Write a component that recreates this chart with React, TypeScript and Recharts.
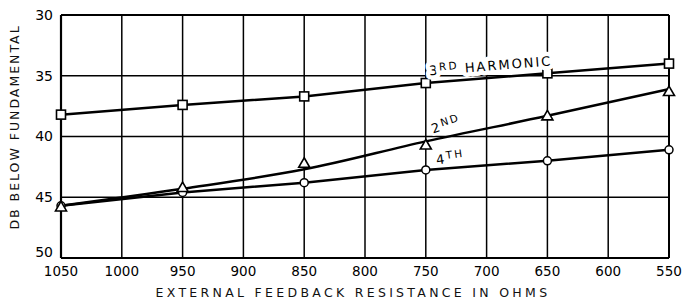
import React from 'react';
import { LineChart, Line, XAxis, YAxis, CartesianGrid, ReferenceDot, ReferenceLine } from 'recharts';

const resistance = [1050, 950, 850, 750, 650, 550];
const third = [38.2, 37.4, 36.7, 35.6, 34.8, 34.0];
const secondMeasured = [45.8, 44.2, 42.2, 40.7, 38.3, 36.3];
const secondCurve = [45.7, 44.3, 42.7, 40.4, 38.3, 36.1];
const fourth = [45.7, 44.6, 43.8, 42.75, 42.0, 41.1];

const xTicks = [1050, 1000, 950, 900, 850, 800, 750, 700, 650, 600, 550];
const yTicks = [30, 35, 40, 45, 50];

const labels = [
  { x: 747, y: 34.96, main: '3', sup: 'RD', rest: ' HARMONIC', rot: -4.6, halo: 9 },
  { x: 744, y: 39.75, main: '2', sup: 'ND', rest: '', rot: -18, halo: 5 },
  { x: 741, y: 42.3, main: '4', sup: 'TH', rest: '', rot: -8, halo: 5 },
];

const data = resistance.map((r, i) => ({
  r,
  third: third[i],
  secondM: secondMeasured[i],
  secondC: secondCurve[i],
  fourth: fourth[i],
}));

const FONT = '"DejaVu Sans", sans-serif';

const SquareDot = (p: any) => {
  const { cx, cy, index } = p;
  if (cx == null || cy == null) return <g key={index} />;
  return <rect key={index} x={cx - 4.5} y={cy - 4.5} width={9} height={9} fill="#fff" stroke="#000" strokeWidth={1.6} />;
};
const TriangleDot = (p: any) => {
  const { cx, cy, index } = p;
  if (cx == null || cy == null) return <g key={index} />;
  const pts = `${cx},${cy - 5.5} ${cx + 5.5},${cy + 4} ${cx - 5.5},${cy + 4}`;
  return <polygon key={index} points={pts} fill="#fff" stroke="#000" strokeWidth={1.6} />;
};
const CircleDot = (p: any) => {
  const { cx, cy, index } = p;
  if (cx == null || cy == null) return <g key={index} />;
  return <circle key={index} cx={cx} cy={cy} r={4} fill="#fff" stroke="#000" strokeWidth={1.5} />;
};

const YTick = (p: any) => {
  const { x, y, payload } = p;
  const shift = payload.value === 50 ? -6 : 0;
  return (
    <text x={x} y={y + shift} dy="0.355em" textAnchor="end" fontFamily={FONT} fontSize={14} fill="#000">
      {payload.value}
    </text>
  );
};

const makeLabel = (l: any) => (p: any) => {
  const { cx, cy } = p;
  return (
    <text
      x={cx}
      y={cy}
      transform={`rotate(${l.rot} ${cx} ${cy})`}
      fontFamily={FONT}
      fontSize={13}
      letterSpacing={2}
      fill="#000"
      stroke="#fff"
      strokeWidth={l.halo}
      paintOrder="stroke"
      strokeLinejoin="round"
    >
      <tspan>{l.main}</tspan>
      <tspan fontSize={10.5} dy={-4}>{l.sup}</tspan>
      {l.rest ? <tspan fontSize={13} dy={4}>{l.rest}</tspan> : null}
    </text>
  );
};

export default function App() {
  return (
    <div style={{ position: 'absolute', left: 0, top: 0, width: 682, height: 299, background: '#fff' }}>
      <LineChart width={682} height={299} data={data} margin={{ top: 15, right: 13, bottom: 11, left: 16 }}>
        <CartesianGrid stroke="#000" strokeWidth={1.5} />
        <XAxis
          dataKey="r"
          type="number"
          domain={[550, 1050]}
          reversed
          ticks={xTicks}
          interval={0}
          tickLine={false}
          height={30}
          axisLine={{ stroke: '#000', strokeWidth: 2.2 }}
          tick={{ fill: '#000', fontSize: 13.5, fontFamily: FONT }}
        />
        <YAxis
          type="number"
          domain={[30, 50]}
          reversed
          ticks={yTicks}
          interval={0}
          tickLine={false}
          width={45}
          axisLine={{ stroke: '#000', strokeWidth: 2.2 }}
          tick={YTick}
        />
        <ReferenceLine y={30} stroke="#000" strokeWidth={2.2} />
        <ReferenceLine x={550} stroke="#000" strokeWidth={2} />
        <Line dataKey="third" type="linear" stroke="#000" strokeWidth={2.5} dot={SquareDot} isAnimationActive={false} />
        <Line dataKey="secondC" type="monotone" stroke="#000" strokeWidth={2.5} dot={false} isAnimationActive={false} />
        <Line dataKey="fourth" type="linear" stroke="#000" strokeWidth={2.5} dot={CircleDot} isAnimationActive={false} />
        <Line dataKey="secondM" type="linear" stroke="none" dot={TriangleDot} isAnimationActive={false} />
        {labels.map((l, i) => (
          <ReferenceDot key={i} x={l.x} y={l.y} r={0} shape={makeLabel(l)} />
        ))}
      </LineChart>
      <svg width={682} height={299} style={{ position: 'absolute', left: 0, top: 0, pointerEvents: 'none' }}>
        <text x={353} y={297} textAnchor="middle" fontFamily={FONT} fontSize={12.5} letterSpacing={3.3} fill="#111">
          EXTERNAL FEEDBACK RESISTANCE IN OHMS
        </text>
        <text
          x={0}
          y={0}
          transform="translate(19 127) rotate(-90)"
          textAnchor="middle"
          fontFamily={FONT}
          fontSize={12.5}
          letterSpacing={2}
          fill="#111"
        >
          DB BELOW FUNDAMENTAL
        </text>
      </svg>
    </div>
  );
}
